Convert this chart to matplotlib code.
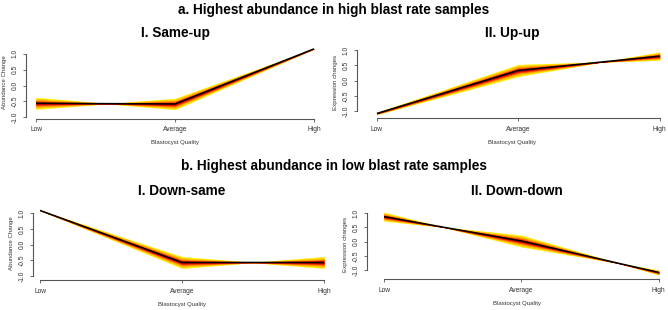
import matplotlib.pyplot as plt

plt.rcParams['font.family'] = ['Liberation Sans', 'DejaVu Sans']

quality = ["Low", "Average", "High"]
xpos = [1, 2, 3]

# cluster centres (black line) and signed half-width of the membership fan
same_up_center = [-0.56, -0.58, 1.16]
same_up_spread = [0.18, -0.17, 0.0]

up_up_center = [-1.08, 0.33, 0.80]
up_up_spread = [0.03, 0.19, -0.13]

down_same_center = [1.09, -0.57, -0.57]
down_same_spread = [0.0, 0.18, -0.18]

down_down_center = [0.88, 0.02, -1.09]
down_down_spread = [0.15, -0.20, 0.08]

yticks = [-1.0, -0.5, 0.0, 0.5, 1.0]

# fan layers, outer (low membership) to inner (high membership)
layer_k = [1.0, 0.8, 0.58, 0.38, 0.2]
layer_col = ['#FFEE00', '#FFC800', '#FF9000', '#FF3a00', '#C80000']

W, H = 668, 310
fig = plt.figure(figsize=(W / 100, H / 100), dpi=100)


def add_panel(left, right, top, bottom, xlim, ylim, center, spread, title, ylabel, title_y):
    ax = fig.add_axes([left / W, 1 - bottom / H, (right - left) / W, (bottom - top) / H])
    for k, c in zip(layer_k, layer_col):
        lo = [m - k * s for m, s in zip(center, spread)]
        hi = [m + k * s for m, s in zip(center, spread)]
        ax.fill_between(xpos, lo, hi, color=c, lw=0.3, edgecolor=c)
    ax.plot(xpos, center, color='black', lw=1.1, solid_capstyle='butt')
    ax.set_xlim(*xlim)
    ax.set_ylim(*ylim)
    for s in ['top', 'right']:
        ax.spines[s].set_visible(False)
    ax.spines['bottom'].set_bounds(1, 3)
    ax.spines['left'].set_bounds(-1, 1)
    for s in ['bottom', 'left']:
        ax.spines[s].set_color('#555555')
        ax.spines[s].set_linewidth(0.8)
    ax.set_xticks(xpos)
    ax.set_xticklabels(quality)
    ax.set_yticks(yticks)
    ax.set_yticklabels([f"{v:.1f}" for v in yticks], rotation=90, va='center')
    ax.tick_params(length=2.5, width=0.6, color='#555555', labelsize=4.8,
                   labelcolor='#333333', pad=3)
    ax.set_xlabel("Blastocyst Quality", fontsize=4.3, color='#333333', labelpad=5)
    ax.set_ylabel(ylabel, fontsize=4.4, color='#333333', labelpad=3)
    cx = (left + right) / 2 / W
    fig.text(cx, 1 - title_y / H, title, ha='center', va='center',
             fontsize=9.8, fontweight='bold')
    return ax


add_panel(26, 324, 46, 118.5, (0.928, 3.072), (-1.04, 1.25),
          same_up_center, same_up_spread, "I. Same-up", "Abundance Change", 33)
add_panel(357, 668, 47, 118, (0.859, 3.06), (-1.23, 1.1),
          up_up_center, up_up_spread, "II. Up-up", "Expression changes", 33)
add_panel(33, 331, 207, 280, (0.95, 3.05), (-1.13, 1.2),
          down_same_center, down_same_spread, "I. Down-same", "Abundance Change", 191)
add_panel(367, 667, 209, 279, (0.876, 3.06), (-1.32, 1.15),
          down_down_center, down_down_spread, "II. Down-down", "Expression changes", 191)

fig.text(0.5, 1 - 10 / H, "a. Highest abundance in high blast rate samples",
         ha='center', va='center', fontsize=9.8, fontweight='bold')
fig.text(0.5, 1 - 166 / H, "b. Highest abundance in low blast rate samples",
         ha='center', va='center', fontsize=9.8, fontweight='bold')

fig.savefig("out.png", dpi=100)
